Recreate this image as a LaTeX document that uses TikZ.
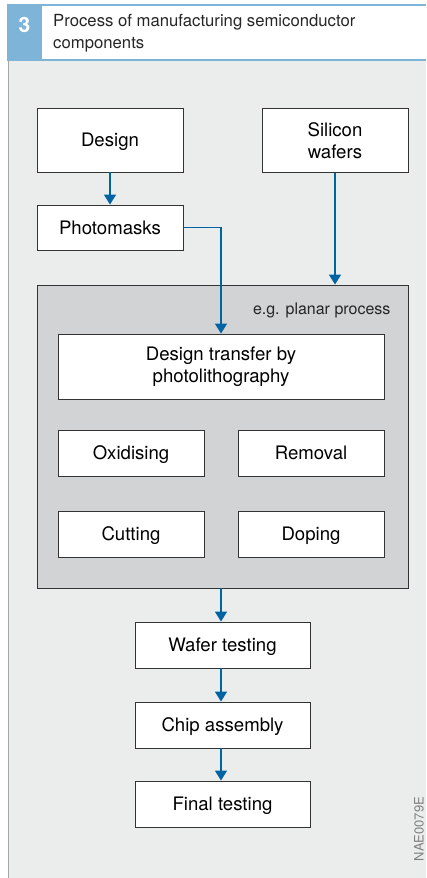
\documentclass[tikz,border=0pt]{standalone}
\usepackage{fontspec}
\setmainfont{TeX Gyre Heros}
\usetikzlibrary{arrows.meta,positioning}
\definecolor{bggray}{RGB}{235,237,237}
\definecolor{procgray}{RGB}{209,211,213}
\definecolor{flowblue}{RGB}{0,99,162}
\definecolor{headblue}{RGB}{126,180,216}
\tikzset{
  stepbox/.style={draw=black!80, fill=white, line width=0.9pt, minimum width=146pt, minimum height=46pt, align=center, inner sep=0pt, font=\fontsize{18.6}{22}\selectfont},
  linebox/.style={stepbox, text height=13.4pt, text depth=0pt},
  flow/.style={-{Triangle[length=10pt,width=12pt]}, flowblue, line width=1.5pt},
}
\begin{document}
\begin{tikzpicture}[x=1pt,y=-1pt]
  \useasboundingbox (0,0) rectangle (426,878);
  % Header
  \fill[bggray] (8,61) rectangle (426,878);
  \draw[black!35, line width=0.8pt] (8,61) -- (8,878);
  \fill[headblue] (7,5) rectangle (42,61);
  \draw[headblue, line width=2pt] (7,5) -- (426,5);
  \draw[headblue, line width=2pt] (7,60) -- (426,60);
  \node[text=white, font=\fontsize{21}{24}\selectfont\bfseries] (num) at (24.5,25) {3};
  \node[anchor=north west, align=left, inner sep=0pt, font=\fontsize{16.7}{21.5}\selectfont, text=black!85] (title) at (53,14.5) {Process of manufacturing semiconductor\\components};

  % Inputs
  \node[linebox, minimum height=64pt] (design) at (110,140) {Design};
  \node[stepbox, minimum height=64pt] (silicon) at (335,140.5) {Silicon\\wafers};
  \node[linebox, minimum height=45pt] (photo) at (110,227.5) {Photomasks};

  % Planar process
  \node[draw=black!80, fill=procgray, line width=0.9pt, minimum width=371pt, minimum height=303pt, inner sep=0pt] (planar) at (222.5,436.5) {};
  \node[anchor=east, font=\fontsize{16}{20}\selectfont, text=black!85] (planarlbl) at (394,310) {e.g. planar process};
  \node[stepbox, minimum width=326pt, minimum height=65pt] (transfer) at (221,366.5) {Design transfer by\\photolithography};
  \node[linebox] (oxid) at (131,453) {Oxidising};
  \node[linebox] (remov) at (311,453) {Removal};
  \node[linebox] (cut) at (131,534) {Cutting};
  \node[linebox] (dope) at (311,534) {Doping};

  % Testing and assembly
  \node[linebox, minimum width=175pt] (wafer) at (222.5,645) {Wafer testing};
  \node[linebox, minimum width=175pt] (chip) at (222.5,725) {Chip assembly};
  \node[linebox, minimum width=175pt] (final) at (222.5,804) {Final testing};

  \draw[flow] (design) -- (photo);
  \draw[flow] (photo.east) -| (transfer.north);
  \draw[flow] (silicon.south) -- (silicon.south |- planar.north);
  \draw[flow] (transfer.north |- planar.south) -- (transfer.north |- wafer.north);
  \draw[flow] (transfer.north |- wafer.south) -- (transfer.north |- chip.north);
  \draw[flow] (transfer.north |- chip.south) -- (transfer.north |- final.north);

  \node[rotate=90, font=\fontsize{13}{15}\selectfont, text=black!50] (code) at (419,829) {NAE0079E};
\end{tikzpicture}
\end{document}
